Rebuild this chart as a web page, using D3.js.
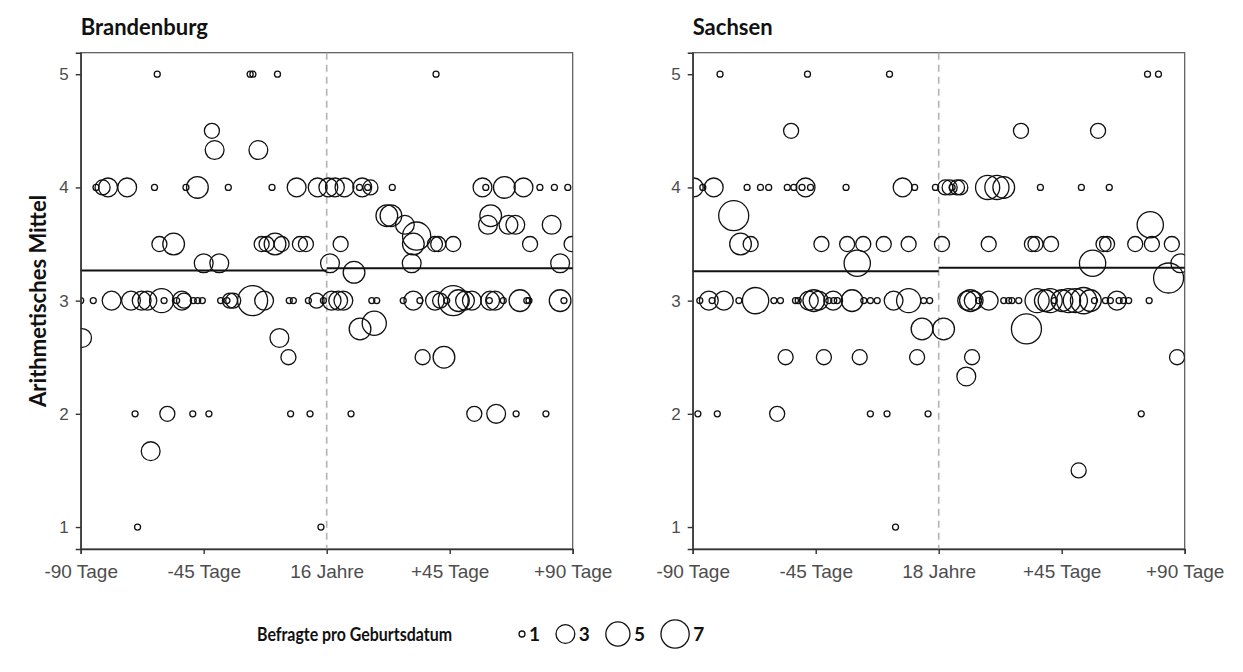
<!DOCTYPE html>
<html><head><meta charset="utf-8">
<script src="https://cdn.jsdelivr.net/npm/d3@7"></script>
<style>
body{margin:0;background:#fff;}
svg{display:block;}
</style></head>
<body>
<svg id="chart" width="1243" height="672"></svg>
<script>
// ---- Data ----
const panelTitles = ["Brandenburg", "Sachsen"];
const cutoffLabels = ["16 Jahre", "18 Jahre"];
const xTickValues = [-90, -45, 0, 45, 90];
const xTickLabels = ["-90 Tage", "-45 Tage", null, "+45 Tage", "+90 Tage"];
const yTickValues = [1, 2, 3, 4, 5];
const legendValues = [1, 3, 5, 7];

// Brandenburg: day relative to 16th birthday, mean, respondents
const bbDay = [-62,-28,-27,-18,40,
 -42,-41,-25,
 -84.4,-82,-80,-73,-63,-51.5,-47.3,-36,-20,-11,-3.3,0.6,3,6.5,12,13,15,16,24,57,58.2,65,72,78,83.3,88.2,
 22,23.5,60,
 28.6,59,66.5,69,82.3,
 32.9,
 -61.2,-56,-23.8,-22,-18.9,-16.5,-9.8,-7.6,5.1,31.7,39.6,40.8,46.3,74.4,89.6,
 -45,-39.3,1.2,31.1,85.4,
 10,
 -90,-85.4,-78.7,-71.6,-67.7,-65.6,-60.4,-59.5,-54.9,-53,-52.2,-48.8,-47.2,-45.5,-38.8,-36.5,-35.4,-34.2,-27.1,-22.9,-13.7,-12.2,-6.7,-3.7,-1.2,1.8,4.2,6.1,16.5,18.3,28,31.7,34.1,39.6,41.5,43.9,46.3,48.2,50.6,53.1,59.8,59.5,61.6,64.6,70.7,73.2,74,85.4,86.8,
 17.4,12.2,
 -89.5,-17.3,
 -14,35.1,42.9,
 -70.1,-58.3,-49,-43.1,-13.2,-6.1,8.9,54,62,69.3,80.2,
 -64.4,
 -69.2,-2.1];
const bbMean = [5,5,5,5,5,
 4.5,4.33,4.33,
 4,4,4,4,4,4,4,4,4,4,4,4,4,4,4,4,4,4,4,4,4,4,4,4,4,4,
 3.75,3.75,3.75,
 3.67,3.67,3.67,3.67,3.67,
 3.57,
 3.5,3.5,3.5,3.5,3.5,3.5,3.5,3.5,3.5,3.5,3.5,3.5,3.5,3.5,3.5,
 3.33,3.33,3.33,3.33,3.33,
 3.25,
 3,3,3,3,3,3,3,3,3,3,3,3,3,3,3,3,3,3,3,3,3,3,3,3,3,3,3,3,3,3,3,3,3,3,3,3,3,3,3,3,3,3,3,3,3,3,3,3,3,
 2.8,2.75,
 2.67,2.67,
 2.5,2.5,2.5,
 2,2,2,2,2,2,2,2,2,2,2,
 1.67,
 1,1];
const bbN = [1,1,1,1,1,
 2,3,3,
 1,2,3,3,1,1,4,1,1,3,3,3,3,3,1,3,1,2,1,3,1,4,3,1,1,1,
 4,4,4,
 3,3,3,3,3,
 7,
 2,4,2,2,4,2,2,2,2,4,2,2,2,2,2,
 3,3,3,3,3,
 4,
 1,1,3,3,3,3,5,1,1,3,2,1,1,1,1,1,2,2,8,3,1,1,1,2,1,3,3,3,1,1,1,3,1,3,2,1,8,4,3,3,3,1,3,1,4,1,1,4,1,
 5,4,
 3,3,
 2,2,4,
 1,2,1,1,1,1,1,2,3,1,1,
 3,
 1,1];

// Sachsen: day relative to 18th birthday, mean, respondents
const saDay = [-80,-48,-18,76.4,80.4,
 -54,30.1,58.3,
 -89.6,-86.3,-82.3,-70.1,-65.2,-62.2,-55.4,-53,-50,-48.7,-46.9,-33.9,-13.2,-8.8,-1.2,2.4,4,4.9,6.7,7.9,17.9,21.3,23.8,37.2,52.2,62.4,
 -75,
 77.4,
 -72.5,-68.8,-42.9,-33.5,-27.6,-20.1,-11,1.2,18.3,34.1,35.4,41.1,60.3,61.6,71.9,78,85.3,
 -29.8,56.3,88.4,
 84.1,
 -87.4,-84.1,-82.9,-78.6,-73.1,-67,-60.3,-57.9,-52.4,-51.4,-47.5,-45.7,-43.9,-40.2,-38.6,-38.4,-37.1,-31.7,-27.4,-25,-22.5,-16.5,-11,-5.5,-3.3,10.4,11.6,12.8,14.6,18.3,23.8,25.6,26.8,29.3,36,39,40.8,42.3,45.1,47.5,50,53,55.5,57,61,62.8,65.2,66,67.6,69.5,77,
 -6.1,1.8,32.1,
 -56,-42,-28.9,-7.9,12.2,87.2,
 10.1,
 -88.1,-81,-59.1,-25,-18.9,-3.9,74.1,
 51.2,
 -15.8];
const saMean = [5,5,5,5,5,
 4.5,4.5,4.5,
 4,4,4,4,4,4,4,4,4,4,4,4,4,4,4,4,4,4,4,4,4,4,4,4,4,4,
 3.75,
 3.67,
 3.5,3.5,3.5,3.5,3.5,3.5,3.5,3.5,3.5,3.5,3.5,3.5,3.5,3.5,3.5,3.5,3.5,
 3.33,3.33,3.33,
 3.2,
 3,3,3,3,3,3,3,3,3,3,3,3,3,3,3,3,3,3,3,3,3,3,3,3,3,3,3,3,3,3,3,3,3,3,3,3,3,3,3,3,3,3,3,3,3,3,3,3,3,3,3,
 2.75,2.75,2.75,
 2.5,2.5,2.5,2.5,2.5,2.5,
 2.33,
 2,2,2,2,2,2,2,
 1.5,
 1];
const saN = [1,1,1,1,1,
 2,2,2,
 3,1,3,1,1,1,1,1,1,3,1,1,3,1,1,2,2,1,2,2,5,5,4,1,1,1,
 8,
 6,
 4,2,2,2,2,2,2,2,2,2,2,2,2,2,2,2,2,
 6,6,3,
 8,
 1,3,1,3,1,6,1,1,1,1,3,4,3,1,3,1,1,4,1,1,1,3,5,1,1,3,4,3,1,3,1,1,1,1,5,4,5,1,4,5,5,6,4,1,1,1,3,1,1,1,1,
 4,4,8,
 2,2,2,2,2,2,
 3,
 1,1,2,1,1,1,1,
 2,
 1];

// Fitted means left / right of the cutoff
const bbFit = [3.265, 3.285];
const saFit = [3.26, 3.29];

// ---- Layout ----
const svg = d3.select("#chart");
const tickFont = "'Liberation Sans', Arial, sans-serif";
const boldFont = "Lato, 'Noto Sans', sans-serif";
const panelW = 492, plotTop = 52.7, plotBottom = 549;
const panelLefts = [80.7, 692.7];

const yScale = d3.scaleLinear().domain([0.806, 5.19]).range([plotBottom, plotTop]);
const rScale = d3.scaleSqrt().domain([0, 7]).range([3, 15]);

const panels = [
  {title: panelTitles[0], cut: cutoffLabels[0], day: bbDay, mean: bbMean, n: bbN, fit: bbFit},
  {title: panelTitles[1], cut: cutoffLabels[1], day: saDay, mean: saMean, n: saN, fit: saFit}
];

const defs = svg.append("defs");

panels.forEach((p, i) => {
  const x0 = panelLefts[i];
  const xScale = d3.scaleLinear().domain([-90, 90]).range([x0, x0 + panelW]);
  const g = svg.append("g");
  const clipId = "clip" + i;
  defs.append("clipPath").attr("id", clipId)
    .append("rect").attr("x", x0).attr("y", plotTop).attr("width", panelW).attr("height", plotBottom - plotTop);

  // border
  g.append("rect").attr("x", x0).attr("y", plotTop).attr("width", panelW).attr("height", plotBottom - plotTop)
    .attr("fill", "none").attr("stroke", "#555").attr("stroke-width", 1.2);

  // cutoff dashed line
  g.append("line").attr("x1", xScale(0)).attr("x2", xScale(0)).attr("y1", plotTop).attr("y2", plotBottom)
    .attr("stroke", "#b3b3b3").attr("stroke-width", 1.6).attr("stroke-dasharray", "7,5");

  // fitted lines
  g.append("line").attr("x1", xScale(-90)).attr("x2", xScale(0))
    .attr("y1", yScale(p.fit[0])).attr("y2", yScale(p.fit[0]))
    .attr("stroke", "#111").attr("stroke-width", 2);
  g.append("line").attr("x1", xScale(0)).attr("x2", xScale(90))
    .attr("y1", yScale(p.fit[1])).attr("y2", yScale(p.fit[1]))
    .attr("stroke", "#111").attr("stroke-width", 2);

  // points
  const data = p.day.map((d, k) => ({day: d, mean: p.mean[k], n: p.n[k]}));
  g.append("g").attr("clip-path", `url(#${clipId})`)
    .selectAll("circle").data(data).join("circle")
    .attr("cx", d => xScale(d.day)).attr("cy", d => yScale(d.mean)).attr("r", d => rScale(d.n - 1))
    .attr("fill", "none").attr("stroke", "#111").attr("stroke-width", 1.3);

  // axes
  const labels = xTickLabels.map(l => l === null ? p.cut : l);
  const xAxis = d3.axisBottom(xScale).tickValues(xTickValues).tickSize(5).tickPadding(11)
    .tickFormat((d, k) => labels[k]);
  const gx = g.append("g").attr("transform", `translate(0,${plotBottom})`).call(xAxis);
  gx.select(".domain").attr("stroke", "#333").attr("stroke-width", 1.4);
  gx.selectAll(".tick line").attr("stroke", "#333").attr("stroke-width", 1.4);
  gx.selectAll(".tick text").attr("fill", "#4d4d4d").style("font-family", tickFont).style("font-size", "19px");

  const yAxis = d3.axisLeft(yScale).tickValues(yTickValues).tickSize(5).tickPadding(7).tickFormat(d3.format("d"));
  const gy = g.append("g").attr("transform", `translate(${x0},0)`).call(yAxis);
  gy.select(".domain").attr("stroke", "#333").attr("stroke-width", 1.4);
  gy.selectAll(".tick line").attr("stroke", "#333").attr("stroke-width", 1.4);
  gy.selectAll(".tick text").attr("fill", "#4d4d4d").style("font-family", tickFont).style("font-size", "17px");

  // title
  svg.append("text").attr("x", x0).attr("y", 35).text(p.title)
    .style("font-family", boldFont).style("font-weight", "bold").style("font-size", "22px").attr("fill", "#111");
});

// y axis title
svg.append("text").attr("transform", `translate(46,${(plotTop + plotBottom) / 2}) rotate(-90)`)
  .attr("text-anchor", "middle").text("Arithmetisches Mittel")
  .style("font-family", boldFont).style("font-weight", "bold").style("font-size", "22px").attr("fill", "#111");

// legend
const legY = 634;
const leg = svg.append("g");
leg.append("text").attr("x", 257).attr("y", legY + 7).text("Befragte pro Geburtsdatum")
  .attr("textLength", 195).attr("lengthAdjust", "spacingAndGlyphs")
  .style("font-family", boldFont).style("font-weight", "bold").style("font-size", "19px").attr("fill", "#111");
let lx = 519;
legendValues.forEach(v => {
  const rad = rScale(v - 1);
  lx += rad;
  leg.append("circle").attr("cx", lx).attr("cy", legY).attr("r", rad)
    .attr("fill", "none").attr("stroke", "#111").attr("stroke-width", 1.3);
  lx += rad + 4;
  leg.append("text").attr("x", lx).attr("y", legY + 7).text(v)
    .style("font-family", boldFont).style("font-weight", "bold").style("font-size", "19px").attr("fill", "#111");
  lx += 27;
});
</script>
</body></html>
